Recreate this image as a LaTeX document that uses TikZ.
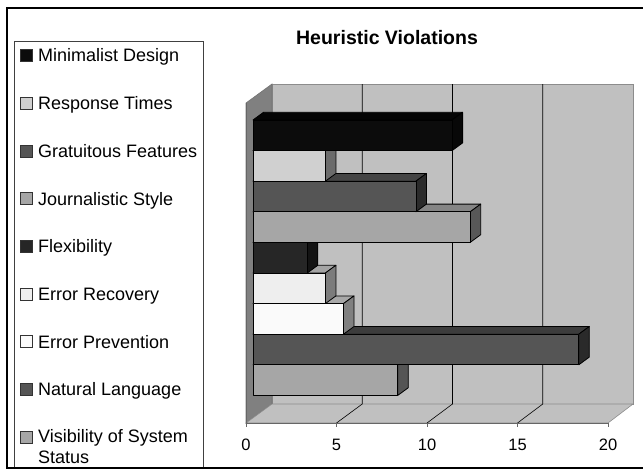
\documentclass[tikz,border=0pt]{standalone}
\usepackage{fontspec}
\setmainfont{Liberation Sans}
\usepackage{tikz}
\usepackage{xcolor}

\definecolor{wallC}{HTML}{C0C0C0}
\definecolor{sideC}{HTML}{808080}
% bar colours: F front, T top, S side
\definecolor{mindF}{HTML}{0C0C0C}\definecolor{mindT}{HTML}{050505}\definecolor{mindS}{HTML}{080808}
\definecolor{respF}{HTML}{D0D0D0}\definecolor{respT}{HTML}{8C8C8C}\definecolor{respS}{HTML}{6B6B6B}
\definecolor{gratF}{HTML}{555555}\definecolor{gratT}{HTML}{444444}\definecolor{gratS}{HTML}{2B2B2B}
\definecolor{jourF}{HTML}{A6A6A6}\definecolor{jourT}{HTML}{858585}\definecolor{jourS}{HTML}{585858}
\definecolor{flexF}{HTML}{262626}\definecolor{flexT}{HTML}{1A1A1A}\definecolor{flexS}{HTML}{131313}
\definecolor{erecF}{HTML}{EEEEEE}\definecolor{erecT}{HTML}{A4A4A4}\definecolor{erecS}{HTML}{7C7C7C}
\definecolor{epreF}{HTML}{FAFAFA}\definecolor{epreT}{HTML}{A8A8A8}\definecolor{epreS}{HTML}{808080}
\definecolor{natlF}{HTML}{555555}\definecolor{natlT}{HTML}{3C3C3C}\definecolor{natlS}{HTML}{2A2A2A}
\definecolor{visiF}{HTML}{A6A6A6}\definecolor{visiT}{HTML}{858585}\definecolor{visiS}{HTML}{555555}

\begin{document}
\begin{tikzpicture}[x=1pt, y=-1pt, font=\fontsize{18}{21}\selectfont,
        barface/.style={draw=black, line width=0.8pt, line join=round},
        key/.style={draw=black!80, line width=0.5pt, minimum size=12pt, inner sep=0pt},
        keytext/.style={anchor=base west, inner sep=0pt}]
        \useasboundingbox (0,0) rectangle (643,471);

        % walls and floor
        \filldraw[fill=wallC, draw=black!45, line width=0.6pt] (272,84) rectangle (633,404);
        \filldraw[fill=sideC, draw=black!55, line width=0.6pt] (246,103) -- (272,84) -- (272,404) -- (246,423) -- cycle;
        \filldraw[fill=wallC, draw=black!45, line width=0.6pt] (246,423) -- (272,404) -- (633,404) -- (608,423) -- cycle;

        \foreach \k in {1,2,3} {
            \draw[black, line width=0.6pt] (272+90.25*\k,84) -- (272+90.25*\k,404)
                -- (246+90.5*\k,423);
        }
        \draw[black!60, line width=0.8pt] (246,103) -- (246,423) -- (608,423);
        \foreach \k in {0,...,4} {
            \draw[black!60, line width=0.8pt] (246+90.5*\k,423) -- (246+90.5*\k,427);
            \pgfmathtruncatemacro{\lab}{5*\k}
            \node[font=\fontsize{16.5}{19}\selectfont] (l\k) at (246+90.5*\k,444.5) {\lab};
        }

        % bars, drawn from the bottom one up
        \foreach \i/\v/\bar in {8/8/visi, 7/18/natl, 6/5/epre, 5/4/erec, 4/3/flex,
                3/12/jour, 2/9/grat, 1/4/resp, 0/11/mind} {
            \pgfmathsetmacro{\yt}{120+30.6*\i}
            \pgfmathsetmacro{\xe}{253+18.1*\v}
            \filldraw[barface, fill=\bar T] (253,\yt) -- ++(10.5,-7.7) -- ({\xe+10.5},{\yt-7.7}) -- (\xe,\yt) -- cycle;
            \filldraw[barface, fill=\bar S] (\xe,\yt) -- ++(10.5,-7.7) -- ++(0,30.6) -- ++(-10.5,7.7) -- cycle;
            \filldraw[barface, fill=\bar F] (253,\yt) rectangle (\xe,{\yt+30.6});
        }

        \node[font=\fontsize{19.5}{23}\selectfont\bfseries] (title) at (387,38) {Heuristic Violations};

        % legend
        \draw[black!75, line width=0.7pt] (14,41) rectangle (203,467);
        \foreach \j/\bar/\txt in {0/mind/Minimalist Design, 1/resp/Response Times,
                2/grat/Gratuitous Features, 3/jour/Journalistic Style, 4/flex/Flexibility,
                5/erec/Error Recovery, 6/epre/Error Prevention, 7/natl/Natural Language} {
            \node[key, fill=\bar F] (k\j) at (26,55.5+47.7*\j) {};
            \node[keytext] (t\j) at (38,61.9+47.7*\j) {\txt};
        }
        \node[key, fill=visiF] (k8) at (26,437) {};
        \node[anchor=north west, inner sep=0pt, align=left] (t8) at (38,429.6) {Visibility of System\\Status};

        % frame
        \draw[line width=2pt] (643,8) -- (7,8) -- (7,468) -- (643,468);
\end{tikzpicture}
\end{document}
